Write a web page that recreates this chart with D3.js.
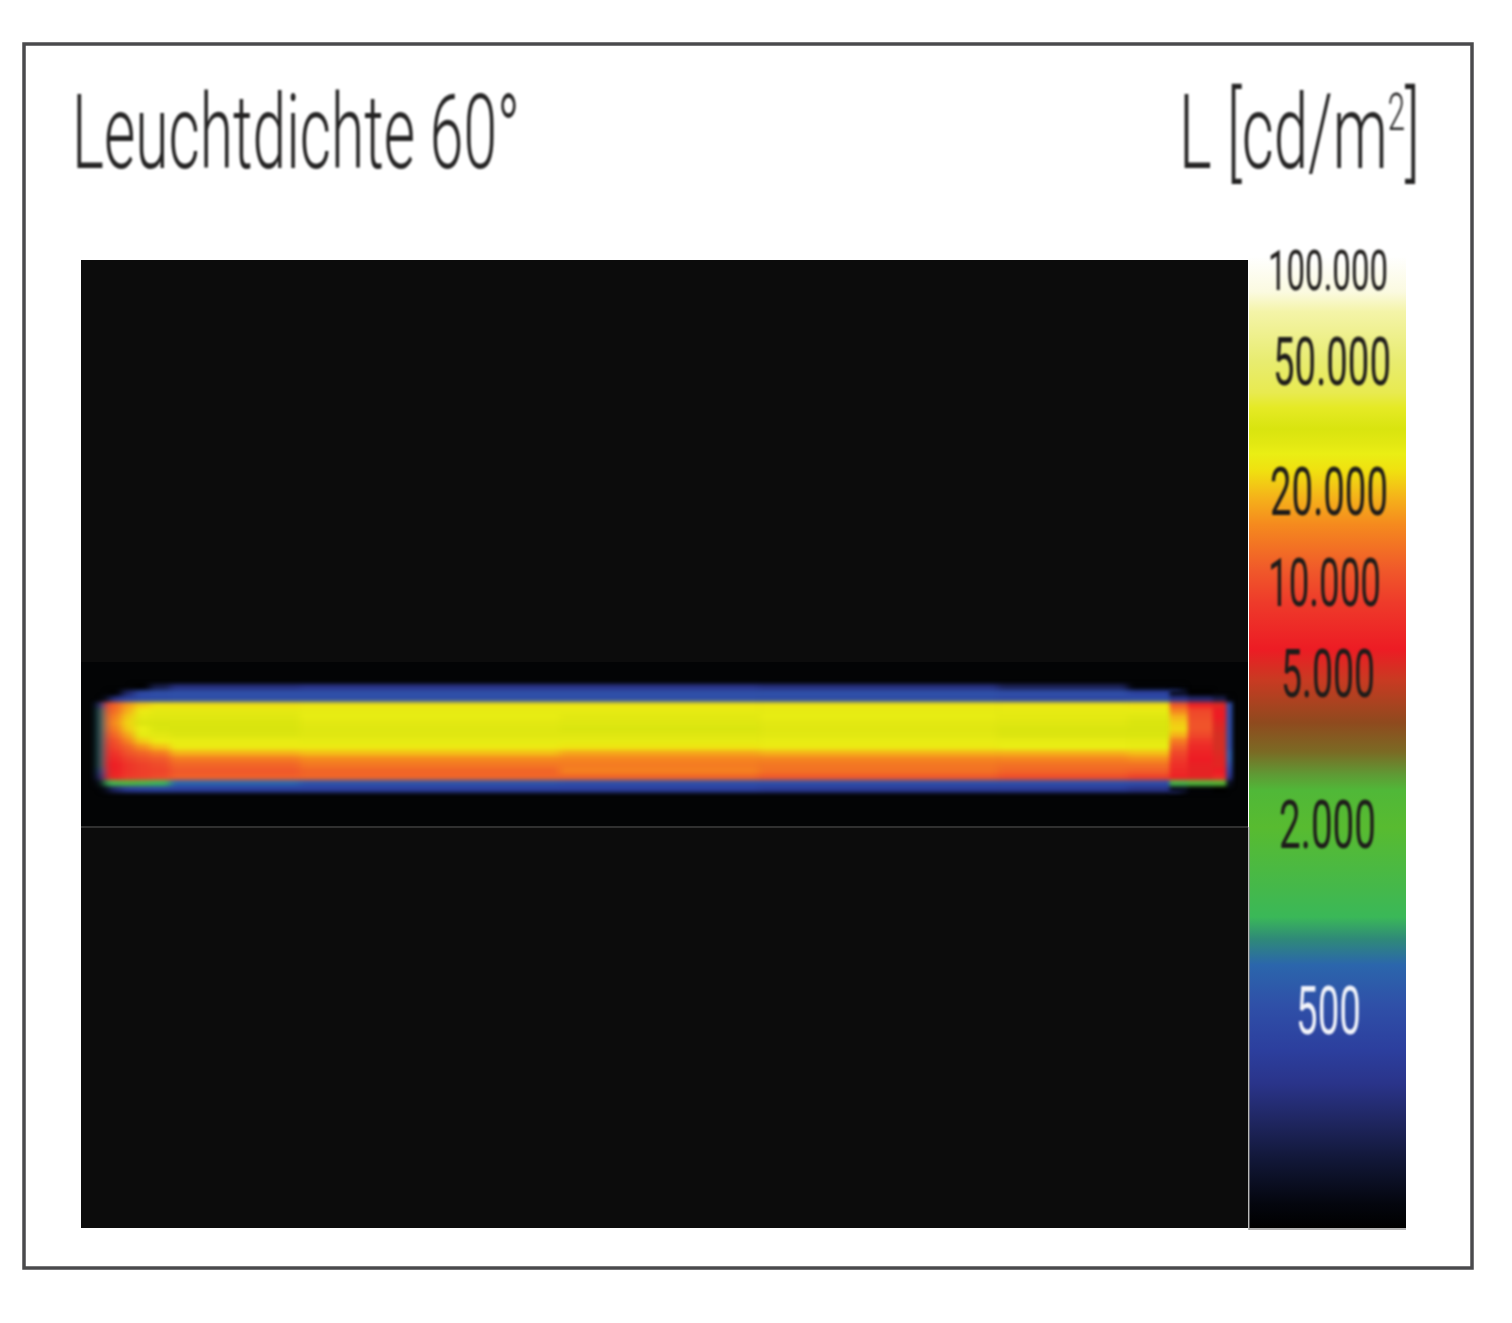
<!DOCTYPE html>
<html><head><meta charset="utf-8">
<script src="https://cdn.jsdelivr.net/npm/d3@7/dist/d3.min.js"></script>
<style>html,body{margin:0;padding:0;background:#fff}svg{display:block}</style></head>
<body><svg id="c" width="1512" height="1323"></svg>
<script>
// ---- data ----
const titleLeft = "Leuchtdichte 60°";
const tickValues = [100000, 50000, 20000, 10000, 5000, 2000, 500];
const scaleValues = [130000, 100000, 50000, 20000, 10000, 5000, 2000, 500, 110];
const colorValues = [130000,85000,73000,50000,40000,36000,31000,28000,26000,23000,19000,15500,11000,8500,6000,4800,3700,3100,2700,2450,1950,1250,1000,850,700,520,380,300,230,180,130,110];
const colorNames = ["#ffffff","#fbfae0","#f4f4a8","#e8ec70","#e8ea50","#e5ea25","#d9e40f","#e2e812","#eaee14","#f0e010","#f5b21a","#f58a1e","#f0592a","#ee3a2a","#ed1c24","#c93a22","#8f4a1e","#7b6a24","#5f9a35","#50b838","#58bb30","#45b84a","#3ab858","#2f8a78","#2b66ac","#2f50a8","#2c3f9e","#2a348a","#1f2660","#12183a","#04060e","#000000"];
// plate position (% of length) of the column edges
const columnEdges = [0,0.53,1.06,2.1,3.2,4.58,6.34,17.8,40.7,58.3,79.4,90.8,94.5,96.1,98.3,99.5,100];
// luminance per column, top row to bottom row
const colA  = [50,50,50,50,500,800,800,800,800,800,800,800,800,800,800,700,400,150,50,50];
const colB  = [50,50,50,150,9000,10000,11000,11500,11000,9500,8500,7500,7000,6500,6000,5500,5200,1000,150,50];
const colC  = [50,50,100,300,12000,13000,15000,16000,14500,12500,10500,9500,8000,7000,6300,6300,6800,1300,250,50];
const colD  = [50,50,250,420,17000,19000,21000,22000,21000,18000,15000,12000,10500,9000,8000,8000,8500,1500,350,60];
const colE  = [50,100,450,470,21000,25000,27500,30000,26000,27000,21000,16000,12000,10000,9000,8800,9000,1300,380,60];
const colE2 = [50,200,500,480,23000,27500,28500,31000,30500,28000,25000,20000,14000,11000,9800,9200,9800,1000,400,60];
const colF  = [60,280,520,500,23000,27500,28500,30500,31000,30000,26500,25000,19000,14000,12000,11000,11500,700,380,60];
const colF2 = [60,300,520,500,24000,27000,26500,28000,29000,28500,27000,25000,20000,15500,13500,12000,12000,560,380,60];
const colG  = [60,300,520,500,24000,27000,28000,29000,30500,29000,27000,24000,18000,15000,14000,14500,12000,520,380,60];
const colH  = [60,280,520,480,24000,27000,26500,28000,28500,28000,26500,25000,19000,15000,13500,13000,11000,520,350,60];
const colI  = [50,220,500,450,24000,27000,27500,28500,30500,30000,27000,26000,19000,15000,13000,12000,10000,520,350,60];
const colJ  = [50,120,400,480,23000,27000,29000,30500,31000,30500,27500,26500,20000,16000,13000,11500,9000,500,300,50];
const colK  = [50,50,150,300,11000,15000,19000,21000,22000,19000,14000,11500,9500,8500,7500,7000,6500,1300,150,50];
const colL  = [50,50,100,250,6500,9500,10000,10500,10500,9500,8000,7000,6500,6000,5800,5700,5700,1600,120,50];
const colM  = [50,50,50,200,5500,6000,6000,5600,5400,5200,5200,5200,5400,5600,5600,6000,7000,1800,100,50];
const colN  = [50,50,50,120,500,500,500,500,500,500,500,500,600,600,500,400,300,150,50,50];
const columns = [colA,colB,colC,colD,colE,colE2,colF,colF2,colG,colH,colI,colJ,colK,colL,colM,colN];
const lastLongColumn = 11;

// ---- layout ----
const svg = d3.select("#c");
const defs = svg.append("defs");
const font = "Roboto, 'Open Sans', sans-serif";
const color = d3.scaleLog().domain(colorValues).range(colorNames).interpolate(d3.interpolateRgb).clamp(true);
const y = d3.scaleLog().domain(scaleValues).range([256,271,361,491,582,673,824,1010,1228]).clamp(true);
const px = d3.scaleLinear().domain([0,100]).range([98,1232]);
const py = d3.scaleLinear().domain([0,20]).range([678,798]);

function blur(id,dev){
  defs.append("filter").attr("id",id).attr("filterUnits","userSpaceOnUse")
   .attr("x",0).attr("y",0).attr("width",1512).attr("height",1323).attr("color-interpolation-filters","sRGB")
   .append("feGaussianBlur").attr("stdDeviation",dev);
}
blur("softLong","4.5 2.2");
blur("softEnd","2.2 2.2");
blur("tb",0.8);
blur("edge",0.7);

const root = svg.append("g").attr("filter","url(#edge)");
// frame
root.append("rect").attr("x",24).attr("y",44).attr("width",1448).attr("height",1224)
  .attr("fill","#fff").attr("stroke","#4a4a4c").attr("stroke-width",3.5);

// heat map ground
root.append("rect").attr("x",81).attr("y",260).attr("width",1167).attr("height",968).attr("fill","#0c0c0c");
root.append("rect").attr("x",81).attr("y",662).attr("width",1167).attr("height",164).attr("fill","#030405");
root.append("line").attr("x1",81).attr("x2",1248).attr("y1",827).attr("y2",827).attr("stroke","#3c3c3c").attr("stroke-width",1.6);

// luminance cells
const cells = columns.flatMap((col,c)=>col.map((v,r)=>({c,r,v}))).filter(d=>d.v>=100);
function drawCells(sel,list){
  sel.selectAll("rect").data(list).join("rect")
  .attr("x",d=>px(columnEdges[d.c]))
  .attr("width",d=>px(columnEdges[d.c+1])-px(columnEdges[d.c])+(d.c===lastLongColumn?12:0.5))
  .attr("y",d=>py(d.r)).attr("height",d=>py(d.r+1)-py(d.r)+0.5)
  .attr("fill",d=>color(d.v));
}
drawCells(root.append("g").attr("filter","url(#softLong)"),cells.filter(d=>d.c<=lastLongColumn));
drawCells(root.append("g").attr("filter","url(#softEnd)"),cells.filter(d=>d.c>lastLongColumn));

// colour bar
const grad = defs.append("linearGradient").attr("id","bar").attr("gradientUnits","userSpaceOnUse")
  .attr("x1",0).attr("x2",0).attr("y1",256).attr("y2",1228);
grad.selectAll("stop").data(colorValues).join("stop")
  .attr("offset",d=>(y(d)-256)/(1228-256)).attr("stop-color",d=>color(d));
root.append("rect").attr("x",1249).attr("y",256).attr("width",157).attr("height",972).attr("fill","url(#bar)");
root.append("line").attr("x1",1249).attr("x2",1249).attr("y1",827).attr("y2",1230).attr("stroke","#8a8a8a").attr("stroke-width",1.2);
root.append("line").attr("x1",1249).attr("x2",1406).attr("y1",1229).attr("y2",1229).attr("stroke","#9a9a9a").attr("stroke-width",1.5);

// fit helper: squeeze text horizontally to a measured width
function fit(sel,x0,yb,w){
  const len = sel.node().getComputedTextLength();
  sel.attr("x",0).attr("y",0).attr("dy",null).attr("transform",`translate(${x0},${yb}) scale(${w/len},1)`);
}
const texts = svg.append("g").attr("filter","url(#tb)");

// axis of the bar
const loc = d3.formatLocale({decimal:",",thousands:".",grouping:[3],currency:["",""]});
const axis = d3.axisRight(y).tickValues(tickValues).tickSize(0).tickFormat(loc.format(","));
const ag = texts.append("g").call(axis);
ag.select(".domain").remove();
const labelX = new Map([[100000,[1268,120,56]],[50000,[1273,118,67]],[20000,[1270,118,67]],[10000,[1268,113,67]],[5000,[1281,94,67]],[2000,[1279,97,67]],[500,[1296,65,67]]]);
const labelBase = new Map([[100000,290],[50000,385],[20000,515],[10000,606],[5000,697],[2000,848],[500,1034]]);
ag.selectAll(".tick").attr("transform",null).each(function(d){
  const t = d3.select(this).select("text");
  const [x0,w,fs] = labelX.get(d);
  t.attr("text-anchor","start").attr("font-family",font).attr("font-weight",400)
   .attr("font-size",fs).attr("fill",d===500?"#f2f4fa":"#1e1c1a");
  fit(t,x0,labelBase.get(d),w);
});

// titles
const t1 = texts.append("text").attr("font-family",font).attr("font-weight",300).attr("font-size",103).attr("fill","#242323").text(titleLeft);
fit(t1,72,168,448);
const t2 = texts.append("text").attr("font-family",font).attr("font-weight",300).attr("font-size",103).attr("fill","#242323");
t2.append("tspan").text("L [cd/m");
t2.append("tspan").attr("font-size",52).attr("dy",-38).text("2");
t2.append("tspan").attr("dy",38).text("]");
fit(t2,1179,168,241);
</script></body></html>
